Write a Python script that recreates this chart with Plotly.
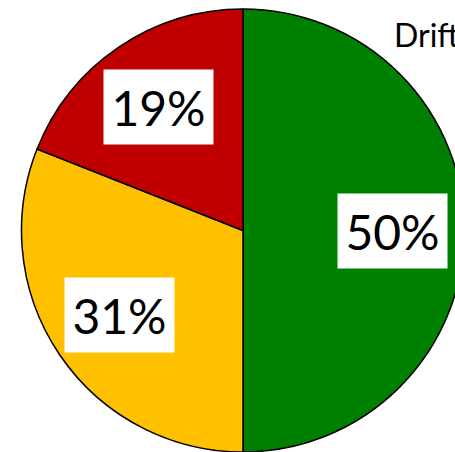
import math
import plotly.graph_objects as go

categories = ["Green", "Yellow", "Red"]
values = [50, 31, 19]
colors = ["#008000", "#FFC000", "#C00000"]
label_texts = ["50%", "31%", "19%"]

W, H = 490, 452
ML, MR, MT, MB = 21, 25, 9, 0
pw, ph = W - ML - MR, H - MT - MB
cx, cy = ML + pw / 2, MT + ph / 2
R = min(pw, ph) / 2

fig = go.Figure(go.Pie(
    labels=categories, values=values, sort=False, direction="clockwise", rotation=0,
    marker=dict(colors=colors, line=dict(color="black", width=1.5)),
    textinfo="none", hoverinfo="label+percent", showlegend=False,
))

total = sum(values)
cum = 0
annotations = []
for v, t in zip(values, label_texts):
    mid = (cum + v / 2) / total * 2 * math.pi
    cum += v
    px = cx + 0.675 * R * math.sin(mid)
    py = cy - 0.675 * R * math.cos(mid)
    annotations.append(dict(
        x=(px - ML) / pw, y=1 - (py - MT) / ph, xref="paper", yref="paper",
        text=t, showarrow=False, bgcolor="white", borderpad=0, width=109, height=74,
        font=dict(family="Lato", size=48, color="black"), xanchor="center", yanchor="middle",
    ))
annotations.append(dict(
    x=(392 - ML) / pw, y=1 - (34 - MT) / ph, xref="paper", yref="paper", text="Drift",
    showarrow=False, xanchor="left", yanchor="middle",
    font=dict(family="Lato", size=32, color="black"),
))

fig.update_layout(
    width=W, height=H, margin=dict(l=ML, r=MR, t=MT, b=MB, pad=0),
    paper_bgcolor="white", plot_bgcolor="white", annotations=annotations,
)
fig.write_html(
    "out.html",
    config={"displayModeBar": False},
    post_script="document.documentElement.style.overflow='hidden';"
                "document.body.style.margin='0';document.body.style.overflow='hidden';",
)
